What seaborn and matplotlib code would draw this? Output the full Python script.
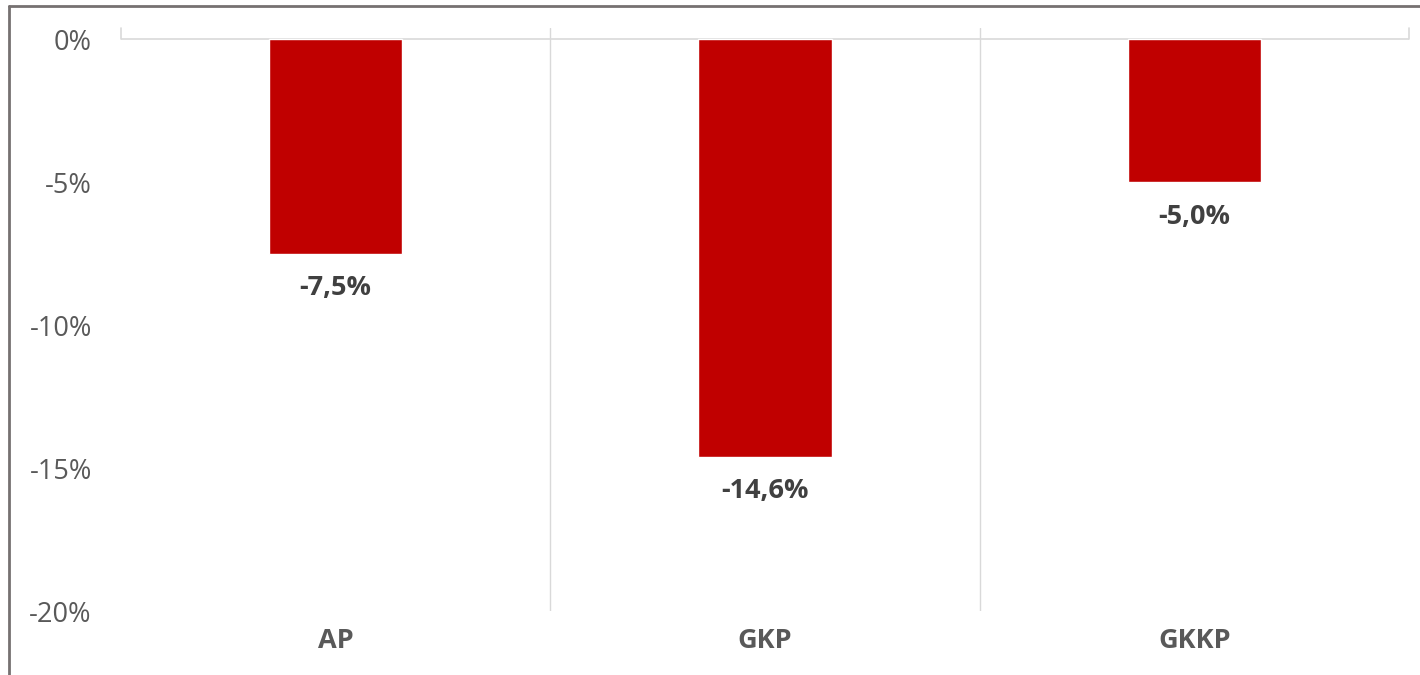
import pandas as pd
import matplotlib
matplotlib.use("Agg")
from matplotlib import pyplot as plt
from matplotlib.lines import Line2D
import seaborn as sns

categories = ["AP", "GKP", "GKKP"]
values = [-7.5, -14.6, -5.0]
yticks = [0, -5, -10, -15, -20]

df = pd.DataFrame({"cat": categories, "val": values})

sns.set_style("white")
plt.rcParams["font.family"] = ["Open Sans", "DejaVu Sans"]

fig = plt.figure(figsize=(14.2, 6.75), dpi=100)
ax = fig.add_axes([121 / 1420, 1 - 611 / 675, 1288 / 1420, 583 / 675])

sns.barplot(data=df, x="cat", y="val", color="#C00000", width=0.31,
            saturation=1, ax=ax, zorder=3)

ax.set_ylim(-20, 0.4)
ax.set_xlim(-0.5, 2.5)
ax.set_yticks(yticks)
ax.set_yticklabels([f"{t}%" for t in yticks], fontsize=19.5, color="#595959",
                   fontweight="medium")
ax.set_xticks(range(len(categories)))
ax.set_xticklabels(categories, fontsize=19.5, color="#595959", fontweight="bold")
ax.tick_params(axis="both", length=0)
ax.tick_params(axis="y", pad=21)
ax.tick_params(axis="x", pad=12)
ax.set_xlabel("")
ax.set_ylabel("")
for s in ax.spines.values():
    s.set_visible(False)

# zero line and category separators
ax.axhline(0, color="#D9D9D9", lw=1.2, zorder=2)
for x in [0.5, 1.5]:
    ax.plot([x, x], [-20, 0.4], color="#D9D9D9", lw=1, zorder=1)
for x in [-0.5, 2.5]:
    ax.plot([x, x], [0, 0.4], color="#D9D9D9", lw=1.2, zorder=1, clip_on=False)

for i, v in enumerate(values):
    ax.annotate(f"{v:.1f}%".replace(".", ","), (i, v), xytext=(0, -25),
                textcoords="offset points", ha="center", va="center",
                fontsize=19.5, fontweight="bold", color="#404040")

# outer frame (left and top edges visible in screenshot)
fig.add_artist(Line2D([9 / 1420, 9 / 1420], [0, 1 - 6 / 675],
                      transform=fig.transFigure, color="#767171", lw=2))
fig.add_artist(Line2D([9 / 1420, 1], [1 - 6 / 675, 1 - 6 / 675],
                      transform=fig.transFigure, color="#767171", lw=2))

fig.savefig("out.png", dpi=100)
